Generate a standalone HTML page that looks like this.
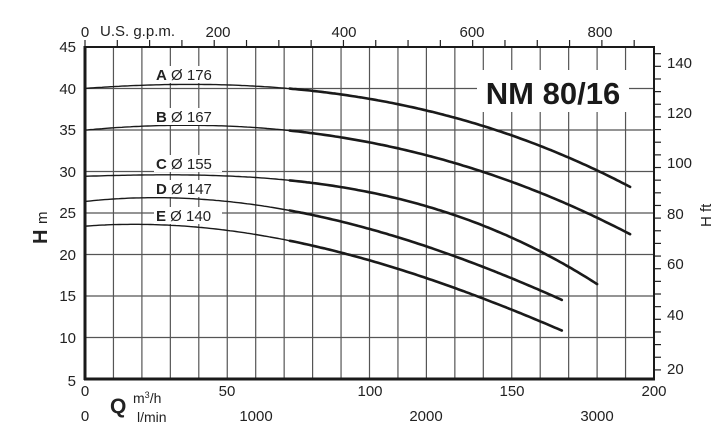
<!DOCTYPE html>
<html><head><meta charset="utf-8"><style>
body{margin:0;background:#fff;width:719px;height:426px;overflow:hidden}
svg{font-family:"Liberation Sans",Arial,sans-serif}
</style></head><body>
<svg id="s" width="719" height="426" viewBox="0 0 719 426" xmlns="http://www.w3.org/2000/svg">
<g id="grid" stroke="#555" stroke-width="1.2"></g>
<g id="curves" fill="none" stroke="#1a1a1a" stroke-linejoin="round" stroke-linecap="round"></g>
<g id="ticks" stroke="#222" stroke-width="1.2"></g>
<rect x="85" y="47" width="569" height="332" fill="none" stroke="#1a1a1a" stroke-width="2"/>
<line x1="85" y1="46" x2="85" y2="380" stroke="#1a1a1a" stroke-width="3"/>
<line x1="84" y1="379" x2="655" y2="379" stroke="#1a1a1a" stroke-width="3"/>
<g font-size="15" fill="#222">
<rect x="154" y="66" width="68" height="17" fill="#fff"/>
<text x="156" y="80"><tspan font-weight="bold">A</tspan> Ø 176</text>
<rect x="154" y="108" width="68" height="17" fill="#fff"/>
<text x="156" y="122"><tspan font-weight="bold">B</tspan> Ø 167</text>
<rect x="154" y="155" width="68" height="17" fill="#fff"/>
<text x="156" y="169"><tspan font-weight="bold">C</tspan> Ø 155</text>
<rect x="154" y="180" width="68" height="17" fill="#fff"/>
<text x="156" y="194"><tspan font-weight="bold">D</tspan> Ø 147</text>
<rect x="154" y="207" width="68" height="17" fill="#fff"/>
<text x="156" y="221"><tspan font-weight="bold">E</tspan> Ø 140</text>
</g>
<rect x="477" y="70" width="152" height="42" fill="#fff"/>
<text x="553" y="104" font-size="31" font-weight="bold" text-anchor="middle" fill="#1a1a1a">NM 80/16</text>
<g font-size="15" fill="#222" text-anchor="end">
<text x="76" y="52">45</text><text x="76" y="94">40</text><text x="76" y="135">35</text><text x="76" y="177">30</text>
<text x="76" y="218">25</text><text x="76" y="260">20</text><text x="76" y="301">15</text><text x="76" y="343">10</text><text x="76" y="386">5</text>
</g>
<g font-size="15" fill="#222" text-anchor="middle">
<text x="85" y="396">0</text><text x="227" y="396">50</text><text x="370" y="396">100</text><text x="512" y="396">150</text><text x="654" y="396">200</text>
<text x="85" y="421">0</text><text x="256" y="421">1000</text><text x="426" y="421">2000</text><text x="597" y="421">3000</text>
<text x="85" y="37">0</text><text x="218" y="37">200</text><text x="344" y="37">400</text><text x="472" y="37">600</text><text x="600" y="37">800</text>
</g>
<text x="100" y="36" font-size="15" fill="#222">U.S. g.p.m.</text>
<text x="110" y="413" font-size="21" font-weight="bold" fill="#222">Q</text>
<text x="133" y="403" font-size="14" fill="#222">m<tspan font-size="9" dy="-5">3</tspan><tspan dy="5">/h</tspan></text>
<text x="137" y="422" font-size="14" fill="#222">l/min</text>
<g font-size="15" fill="#222">
<text x="667" y="68">140</text><text x="667" y="118">120</text><text x="667" y="168">100</text><text x="667" y="219">80</text>
<text x="667" y="269">60</text><text x="667" y="320">40</text><text x="667" y="374">20</text>
</g>
<text transform="translate(47,244) rotate(-90)" font-size="20" font-weight="bold" fill="#222">H <tspan font-size="15" font-weight="normal">m</tspan></text>
<text transform="translate(711,227) rotate(-90)" font-size="15" fill="#222">H ft</text>
</svg>
<script>
var NS="http://www.w3.org/2000/svg";
function X(q){return 85+q*2.845}function Y(h){return 379-(h-5)*8.3}
function el(p,t,a){var e=document.createElementNS(NS,t);for(var k in a)e.setAttribute(k,a[k]);p.appendChild(e);return e}
var g=document.getElementById('grid');
for(var q=10;q<200;q+=10)el(g,'line',{x1:X(q),y1:47,x2:X(q),y2:379});
for(var h=10;h<45;h+=5)el(g,'line',{x1:85,y1:Y(h),x2:654,y2:Y(h)});
var t=document.getElementById('ticks');
for(var gp=0;gp<=850;gp+=50){var x=85+gp*0.6461;el(t,'line',{x1:x,y1:40,x2:x,y2:47})}
for(var ft=20;ft<=145;ft+=5){var y=Y(ft*0.3048);el(t,'line',{x1:654,y1:y,x2:661,y2:y})}
var C=[
[[0,40],[20,40.4],[40,40.5],[72,40.0],[100,38.7],[124.8,37.0],[150,34.3],[180,30.2],[191.6,28.1]],
[[0,35],[20,35.4],[40,35.6],[72,35.0],[96.7,33.6],[124.8,31.6],[150,28.7],[180,24.5],[191.6,22.4]],
[[0,29.2],[20,29.8],[40,29.9],[72,28.7],[96.7,27.2],[124.8,25.7],[150,22.2],[180,16.3]],
[[0,26.3],[20,26.9],[35,26.9],[60,26.0],[72,25.2],[96.7,23.2],[128.3,20.1],[150,17.3],[167.6,14.4]],
[[0,23.4],[20,23.6],[35,23.5],[60,22.5],[72,21.5],[96.7,19.6],[128.3,16.2],[150,13.4],[167.6,10.8]]];
function fit(pts,deg){var n=deg+1,A=[],b=[];for(var i=0;i<n;i++){A.push(new Array(n).fill(0));b.push(0)}
pts.forEach(function(p){var q=p[0]/100;for(var i=0;i<n;i++){for(var j=0;j<n;j++)A[i][j]+=Math.pow(q,i+j);b[i]+=p[1]*Math.pow(q,i)}});
for(var i=0;i<n;i++){var m=i;for(var r=i+1;r<n;r++)if(Math.abs(A[r][i])>Math.abs(A[m][i]))m=r;
var tA=A[i];A[i]=A[m];A[m]=tA;var tb=b[i];b[i]=b[m];b[m]=tb;
for(var r=0;r<n;r++){if(r==i)continue;var f=A[r][i]/A[i][i];for(var c=i;c<n;c++)A[r][c]-=f*A[i][c];b[r]-=f*b[i]}}
var co=b.map(function(v,i){return v/A[i][i]});return function(Q){var q=Q/100,s=0;for(var i=0;i<n;i++)s+=co[i]*Math.pow(q,i);return s}}
var cg=document.getElementById('curves');
C.forEach(function(c){var f=fit(c,3),qe=c[c.length-1][0];var a=[],b=[];
for(var Q=0;Q<=qe+0.01;Q+=1){var p=X(Q).toFixed(1)+','+Y(f(Q)).toFixed(1);if(Q<=72)a.push(p);if(Q>=72)b.push(p)}
if(b[b.length-1]!==undefined){var last=X(qe).toFixed(1)+','+Y(f(qe)).toFixed(1);b.push(last)}
el(cg,'polyline',{points:a.join(' '),'stroke-width':1.4});
el(cg,'polyline',{points:b.join(' '),'stroke-width':2.6});});
</script>
</body></html>
